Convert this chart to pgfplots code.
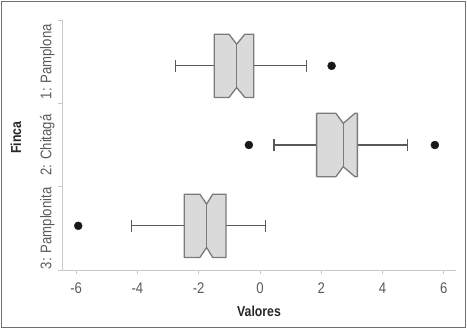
\documentclass[border=0pt]{standalone}
\usepackage{fontspec}
\setmainfont{Liberation Sans}[FakeStretch=0.85]
\usepackage{pgfplots}
\pgfplotsset{compat=1.18}
\definecolor{boxfill}{HTML}{DADADA}
\definecolor{boxline}{HTML}{7A7A7A}
\definecolor{whisk}{HTML}{5A5A5A}
\definecolor{axisgray}{HTML}{C8C8C8}
\definecolor{ticktext}{HTML}{5A5A5A}
\definecolor{frame}{HTML}{707070}
\begin{document}
\begin{tikzpicture}[x=1bp,y=1bp]
\useasboundingbox (0,0) rectangle (467,329);
\draw[color=frame, line width=1.8bp] (1.5,1.5) rectangle (465.5,327.5);
\begin{axis}[
  at={(62bp,59bp)}, anchor=south west, scale only axis,
  width=394bp, height=250bp,
  xmin=-6.46, xmax=6.4, ymin=0, ymax=3,
  clip=false,
  axis x line*=bottom, axis y line*=left,
  axis line style={axisgray, line width=0.8bp},
  tick style={axisgray, line width=0.8bp},
  tick align=outside, major tick length=4bp,
  xtick={-6,-4,...,6},
  ytick={0,1,2,3}, yticklabels={},
  extra y ticks={0.5,1.5,2.5},
  extra y tick labels={3: Pamplonita,2: Chitagá,1: Pamplona},
  extra y tick style={major tick length=0pt, yticklabel style={xshift=-4bp, rotate=90, anchor=south}},
  /pgf/number format/assume math mode=true,
  ticklabel style={font=\fontsize{15.5}{15.5}\selectfont, text=ticktext},
  xticklabel style={anchor=center, yshift=-14bp},
  xlabel={\textbf{Valores}}, ylabel={\textbf{Finca}},
  label style={font=\fontsize{14.5}{14.5}\selectfont, text=black!85},
  xlabel style={at={(axis description cs:0.5,-0.164)}, anchor=center},
  ylabel style={at={(axis description cs:-0.117,0.53)}, anchor=center},
]
% Pamplona (y = 2.45)
\addplot[whisk, line width=1.1bp] coordinates {(-2.75,2.45)(-1.49,2.45)};
\addplot[whisk, line width=1.1bp] coordinates {(-0.20,2.45)(1.52,2.45)};
\addplot[whisk, line width=1.1bp] coordinates {(-2.75,2.375)(-2.75,2.525)};
\addplot[whisk, line width=1.1bp] coordinates {(1.52,2.375)(1.52,2.525)};
\addplot[fill=boxfill, draw=boxline, line width=1.3bp, line join=round] coordinates {
  (-1.49,2.07)(-1.01,2.07)(-0.76,2.19)(-0.49,2.07)(-0.20,2.07)
  (-0.20,2.83)(-0.49,2.83)(-0.76,2.71)(-1.01,2.83)(-1.49,2.83)(-1.49,2.07)};
\addplot[boxline, line width=1.3bp] coordinates {(-0.76,2.19)(-0.76,2.71)};
% Chitaga (y = 1.5)
\addplot[whisk, line width=1.1bp] coordinates {(0.46,1.5)(1.85,1.5)};
\addplot[whisk, line width=1.1bp] coordinates {(3.18,1.5)(4.81,1.5)};
\addplot[whisk, line width=1.1bp] coordinates {(0.46,1.425)(0.46,1.575)};
\addplot[whisk, line width=1.1bp] coordinates {(4.81,1.425)(4.81,1.575)};
\addplot[fill=boxfill, draw=boxline, line width=1.3bp, line join=round] coordinates {
  (1.85,1.12)(2.48,1.12)(2.72,1.24)(3.10,1.12)(3.18,1.12)
  (3.18,1.88)(3.10,1.88)(2.72,1.76)(2.48,1.88)(1.85,1.88)(1.85,1.12)};
\addplot[boxline, line width=1.3bp] coordinates {(2.72,1.24)(2.72,1.76)};
% Pamplonita (y = 0.53)
\addplot[whisk, line width=1.1bp] coordinates {(-4.19,0.53)(-2.47,0.53)};
\addplot[whisk, line width=1.1bp] coordinates {(-1.11,0.53)(0.19,0.53)};
\addplot[whisk, line width=1.1bp] coordinates {(-4.19,0.455)(-4.19,0.605)};
\addplot[whisk, line width=1.1bp] coordinates {(0.19,0.455)(0.19,0.605)};
\addplot[fill=boxfill, draw=boxline, line width=1.3bp, line join=round] coordinates {
  (-2.47,0.15)(-1.96,0.15)(-1.74,0.27)(-1.54,0.15)(-1.11,0.15)
  (-1.11,0.91)(-1.54,0.91)(-1.74,0.79)(-1.96,0.91)(-2.47,0.91)(-2.47,0.15)};
\addplot[boxline, line width=1.3bp] coordinates {(-1.74,0.27)(-1.74,0.79)};
% outliers
\addplot[only marks, mark=*, mark size=4bp, color=black!90] coordinates {
  (2.34,2.45)(-0.36,1.5)(5.71,1.5)(-5.93,0.53)};
\end{axis}
\end{tikzpicture}
\end{document}
